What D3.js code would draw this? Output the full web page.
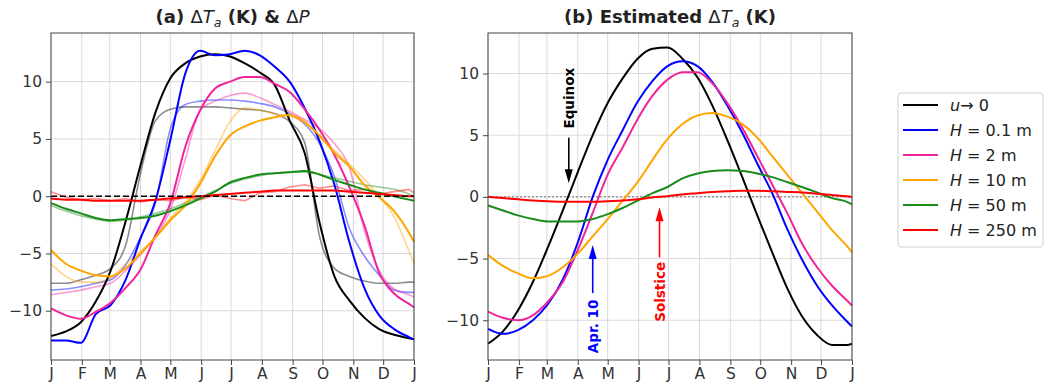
<!DOCTYPE html>
<html>
<head>
<meta charset="utf-8">
<script src="https://cdn.jsdelivr.net/npm/d3@7"></script>
<style>
body{margin:0;background:#fff;}
svg{font-family:"DejaVu Sans",sans-serif;}
</style>
</head>
<body>
<svg id="graph"></svg>
<script>
// month axis
var monthDays=[0,31,59,90,120,151,181,212,243,273,304,334,365]
var monthLabels=["J","F","M","A","M","J","J","A","S","O","N","D","J"]
var yTicks=[-10,-5,0,5,10]

// day of year for every value below
var days=[0,15,30,45,60,75,90,105,120,135,150,165,180,195,210,225,240,255,270,285,300,315,330,345,360,365]

// (a) observed, thick lines
var obsBlack=[-12.2,-11.8,-11.0,-9.2,-6.5,-2.2,2.7,7.3,10.3,11.6,12.2,12.4,12.2,11.6,10.8,9.7,6.6,3.8,-2.3,-7.0,-9.1,-10.6,-11.6,-12.1,-12.4,-12.5]
var obsBlue=[-12.6,-12.6,-12.8,-10.3,-9.5,-7.3,-3.7,-0.4,4.9,10.7,12.7,12.3,12.4,12.7,12.3,11.3,10.0,7.7,4.8,1.0,-4.0,-8.0,-10.4,-11.6,-12.3,-12.5]
var obsPink=[-9.8,-10.4,-10.7,-10.1,-9.3,-8.0,-6.4,-3.4,-0.6,4.3,7.5,9.4,10.0,10.4,10.4,9.8,9.1,7.6,5.8,3.6,0.8,-2.5,-6.7,-8.5,-9.4,-9.7]
var obsOrange=[-4.7,-5.9,-6.5,-6.9,-7.0,-6.3,-5.0,-3.6,-2.1,-0.8,1.1,3.5,5.3,6.1,6.6,6.9,7.1,6.5,5.3,3.8,2.6,1.0,-0.1,-1.3,-3.2,-4.0]
var obsGreen=[-0.6,-1.1,-1.5,-1.9,-2.1,-2.0,-1.9,-1.7,-1.3,-0.8,-0.2,0.4,1.2,1.6,1.9,2.0,2.1,2.2,1.9,1.4,1.0,0.6,0.3,0.0,-0.3,-0.4]
var obsRed=[-0.2,-0.3,-0.3,-0.4,-0.4,-0.4,-0.4,-0.3,-0.2,-0.1,0.0,0.1,0.2,0.3,0.4,0.5,0.5,0.5,0.5,0.5,0.4,0.3,0.2,0.1,0.0,0.0]

// (a) thin light lines
var pBlack=[-7.6,-7.6,-7.3,-6.9,-6.3,-4.3,2.0,6.6,7.6,7.8,7.8,7.8,7.7,7.6,7.5,7.2,6.5,4.7,-3.5,-6.3,-7.0,-7.4,-7.6,-7.6,-7.5,-7.5]
var pBlue=[-8.2,-8.1,-7.9,-7.6,-7.3,-6.0,-3.6,-0.6,5.9,8.0,8.3,8.4,8.4,8.3,8.1,7.8,7.2,6.3,4.6,1.7,-2.8,-5.2,-6.9,-8.2,-8.4,-8.4]
var pPink=[-8.6,-8.4,-8.2,-7.9,-7.6,-6.5,-5.1,-3.5,-1.2,3.2,7.5,8.3,8.8,9.0,8.6,8.0,7.4,6.7,5.9,4.6,2.5,-3.0,-6.5,-8.1,-8.6,-8.8]
var pOrange=[-5.9,-7.0,-7.5,-7.5,-7.1,-5.9,-4.8,-3.6,-1.9,-0.5,1.4,4.0,6.5,7.7,7.5,7.2,7.0,6.4,5.2,4.0,2.8,1.5,0.0,-1.8,-4.8,-5.9]
var pGreen=[-0.8,-1.3,-1.7,-2.0,-2.2,-2.1,-1.8,-1.5,-1.1,-0.6,-0.1,0.5,1.1,1.5,1.8,2.0,2.1,2.1,1.9,1.6,1.3,1.0,0.8,0.6,0.2,0.0]
var pRed=[0.4,-0.1,-0.3,-0.2,-0.4,-0.2,-0.5,-0.3,-0.4,-0.1,-0.3,0.1,-0.2,-0.4,0.3,0.4,0.8,1.0,0.7,0.9,0.5,0.6,0.2,0.4,0.6,0.3]

// (b) estimated
var estBlack=[-11.9,-10.9,-9.2,-6.9,-4.1,-1.1,2.0,5.0,7.6,9.6,11.2,12.0,12.1,11.2,9.7,7.4,4.6,1.6,-1.5,-4.5,-7.4,-9.7,-11.2,-12.0,-12.0,-11.9]
var estBlue=[-10.7,-11.1,-10.8,-10.0,-8.7,-6.7,-3.7,0.0,3.0,5.4,7.7,9.4,10.6,11.0,10.6,9.3,7.4,5.2,2.7,0.3,-2.6,-5.1,-7.2,-8.8,-10.1,-10.5]
var estPink=[-9.3,-9.8,-10.0,-9.6,-8.5,-6.9,-4.3,-1.3,1.8,4.0,6.3,8.2,9.5,10.1,10.1,9.2,7.6,5.6,3.3,1.0,-1.3,-3.8,-5.7,-7.2,-8.4,-8.8]
var estOrange=[-4.7,-5.6,-6.2,-6.6,-6.4,-5.7,-4.6,-3.2,-1.8,-0.3,1.2,3.0,4.7,5.9,6.6,6.8,6.5,5.9,4.8,3.3,1.8,0.3,-1.2,-2.7,-4.0,-4.5]
var estGreen=[-0.7,-1.1,-1.5,-1.8,-2.0,-2.0,-2.0,-1.8,-1.4,-0.9,-0.3,0.3,0.8,1.5,1.9,2.1,2.15,2.1,1.9,1.6,1.2,0.8,0.35,-0.1,-0.4,-0.6]
var estRed=[0.0,-0.1,-0.2,-0.3,-0.35,-0.4,-0.4,-0.4,-0.35,-0.3,-0.2,-0.05,0.05,0.2,0.3,0.4,0.45,0.5,0.5,0.45,0.4,0.35,0.25,0.15,0.05,0.0]

var legendLabels=["u","H = 0.1 m","H = 2 m","H = 10 m","H = 50 m","H = 250 m"]
var colors=["#000000","#0000ff","#f0259b","#ffa500","#1a8c1a","#ff0000"]

var screen={width:1045,height:389}

var svg=d3.select("#graph")
    .attr("width",screen.width)
    .attr("height",screen.height)

var drawFrame=function(xScale,yScale)
{
    var g=svg.append("g")
    g.selectAll(".vgrid")
    .data(monthDays)
    .enter()
    .append("line")
    .attr("x1",function(d){return xScale(d)})
    .attr("x2",function(d){return xScale(d)})
    .attr("y1",yScale.range()[0])
    .attr("y2",yScale.range()[1])
    .attr("stroke","#dadada")
    .attr("stroke-width",1)
    g.selectAll(".hgrid")
    .data(yTicks)
    .enter()
    .append("line")
    .attr("x1",xScale.range()[0])
    .attr("x2",xScale.range()[1])
    .attr("y1",function(d){return yScale(d)})
    .attr("y2",function(d){return yScale(d)})
    .attr("stroke","#dadada")
    .attr("stroke-width",1)
}

var drawAxes=function(xScale,yScale)
{
    var xAxis=d3.axisBottom(xScale)
    .tickValues(monthDays)
    .tickFormat(function(d,i){return monthLabels[i]})
    .tickSize(5)
    .tickPadding(3)
    var yAxis=d3.axisLeft(yScale)
    .tickValues(yTicks)
    .tickFormat(function(d){return d<0?"\u2212"+Math.abs(d):d})
    .tickSize(5)
    .tickPadding(4)
    var gx=svg.append("g")
    .attr("transform","translate(0,"+yScale.range()[0]+")")
    .call(xAxis)
    var gy=svg.append("g")
    .attr("transform","translate("+xScale.range()[0]+",0)")
    .call(yAxis)
    ;[gx,gy].forEach(function(g)
    {
        g.select(".domain").remove()
        g.selectAll("line").attr("stroke","#444")
        g.selectAll("text")
        .attr("fill","#333")
        .style("font-size","15.5px")
        .style("font-family","DejaVu Sans")
    })
    svg.append("rect")
    .attr("x",xScale.range()[0])
    .attr("y",yScale.range()[1])
    .attr("width",xScale.range()[1]-xScale.range()[0])
    .attr("height",yScale.range()[0]-yScale.range()[1])
    .attr("fill","none")
    .attr("stroke","#444")
    .attr("stroke-width",1)
}

var drawLine=function(values,xScale,yScale,color,width,opacity,curve)
{
    var line=d3.line()
    .x(function(d,i){return xScale(days[i])})
    .y(function(d){return yScale(d)})
    .curve(curve)
    svg.append("path")
    .datum(values)
    .attr("d",line)
    .attr("fill","none")
    .attr("stroke",color)
    .attr("stroke-width",width)
    .attr("stroke-opacity",opacity)
    .attr("stroke-linejoin","round")
}

var drawTitle=function(xScale,parts)
{
    var t=svg.append("text")
    .attr("x",(xScale.range()[0]+xScale.range()[1])/2)
    .attr("y",23)
    .attr("text-anchor","middle")
    .style("font-size","18px")
    .attr("fill","#222")
    parts.forEach(function(p)
    {
        var s=t.append("tspan").text(p.text)
        if(p.bold) s.attr("font-weight","bold")
        if(p.italic) s.attr("font-style","italic")
        if(p.sub) s.attr("dy",4).style("font-size","12.5px")
        if(p.back) s.attr("dy",-4)
    })
}

var drawPanelA=function()
{
    var xScale=d3.scaleLinear().domain([0,365]).range([51,414])
    var yScale=d3.scaleLinear().domain([-14.3,14.25]).range([360,33])
    drawFrame(xScale,yScale)
    var light=[pBlack,pBlue,pPink,pOrange,pGreen,pRed]
    var thick=[obsBlack,obsBlue,obsPink,obsOrange,obsGreen,obsRed]
    light.forEach(function(v,i)
    {
        drawLine(v,xScale,yScale,colors[i],1.6,0.45,i==5?d3.curveLinear:d3.curveMonotoneX)
    })
    thick.forEach(function(v,i)
    {
        drawLine(v,xScale,yScale,colors[i],2,1,d3.curveMonotoneX)
    })
    svg.append("line")
    .attr("x1",xScale(0)).attr("x2",xScale(365))
    .attr("y1",yScale(0)).attr("y2",yScale(0))
    .attr("stroke","#000")
    .attr("stroke-width",1.6)
    .attr("stroke-dasharray","6,3")
    drawAxes(xScale,yScale)
    drawTitle(xScale,[
        {text:"(a) ",bold:true},
        {text:"\u0394"},
        {text:"T",italic:true},
        {text:"a",italic:true,sub:true},
        {text:" (K) & ",bold:true,back:true},
        {text:"\u0394"},
        {text:"P",italic:true}
    ])
}

var drawArrow=function(xScale,yScale,day,from,to,color)
{
    var x=xScale(day)
    var y0=yScale(from)
    var y1=yScale(to)
    var dir=y1>y0?1:-1
    svg.append("line")
    .attr("x1",x).attr("x2",x)
    .attr("y1",y0).attr("y2",y1-dir*12)
    .attr("stroke",color)
    .attr("stroke-width",1.6)
    svg.append("path")
    .attr("d","M"+(x-4)+","+(y1-dir*14)+"L"+(x+4)+","+(y1-dir*14)+"L"+x+","+y1+"Z")
    .attr("fill",color)
}

var drawLabel=function(xScale,yScale,day,value,text,color)
{
    svg.append("text")
    .attr("transform","translate("+(xScale(day)+5)+","+yScale(value)+") rotate(-90)")
    .attr("text-anchor","middle")
    .attr("font-weight","bold")
    .style("font-size","13.5px")
    .attr("fill",color)
    .text(text)
}

var drawPanelB=function()
{
    var xScale=d3.scaleLinear().domain([0,365]).range([488,852])
    var yScale=d3.scaleLinear().domain([-13.22,13.28]).range([360,33])
    drawFrame(xScale,yScale)
    svg.append("line")
    .attr("x1",xScale(0)).attr("x2",xScale(365))
    .attr("y1",yScale(0)).attr("y2",yScale(0))
    .attr("stroke","#999")
    .attr("stroke-width",1.5)
    .attr("stroke-dasharray","2,2")
    var est=[estBlack,estBlue,estPink,estOrange,estGreen,estRed]
    est.forEach(function(v,i)
    {
        drawLine(v,xScale,yScale,colors[i],2,1,d3.curveMonotoneX)
    })
    drawArrow(xScale,yScale,81,4.8,1.1,"#000")
    drawLabel(xScale,yScale,81,8.0,"Equinox","#000")
    drawArrow(xScale,yScale,105,-7.8,-3.9,"#0000ff")
    drawLabel(xScale,yScale,105,-10.5,"Apr. 10","#0000ff")
    drawArrow(xScale,yScale,172,-4.9,-0.85,"#ff0000")
    drawLabel(xScale,yScale,172,-7.7,"Solstice","#ff0000")
    drawAxes(xScale,yScale)
    drawTitle(xScale,[
        {text:"(b) Estimated ",bold:true},
        {text:"\u0394"},
        {text:"T",italic:true},
        {text:"a",italic:true,sub:true},
        {text:" (K)",bold:true,back:true}
    ])
}

var drawLegend=function()
{
    var g=svg.append("g").attr("transform","translate(898,93)")
    g.append("rect")
    .attr("width",145).attr("height",154)
    .attr("rx",3)
    .attr("fill","#fff")
    .attr("stroke","#d0d0d0")
    var rows=g.selectAll(".row")
    .data(legendLabels)
    .enter()
    .append("g")
    .attr("transform",function(d,i){return "translate(0,"+(12+i*25)+")"})
    rows.append("line")
    .attr("x1",5).attr("x2",40)
    .attr("stroke",function(d,i){return colors[i]})
    .attr("stroke-width",2)
    var txt=rows.append("text")
    .attr("x",52)
    .attr("y",6)
    .style("font-size","16px")
    .attr("fill","#222")
    txt.each(function(d,i)
    {
        var el=d3.select(this)
        if(i==0)
        {
            el.append("tspan").attr("font-style","italic").text("u")
            el.append("tspan").text("\u2192 0")
        }
        else
        {
            el.append("tspan").attr("font-style","italic").text("H")
            el.append("tspan").text(d.slice(1))
        }
    })
}

drawPanelA()
drawPanelB()
drawLegend()
</script>
</body>
</html>
